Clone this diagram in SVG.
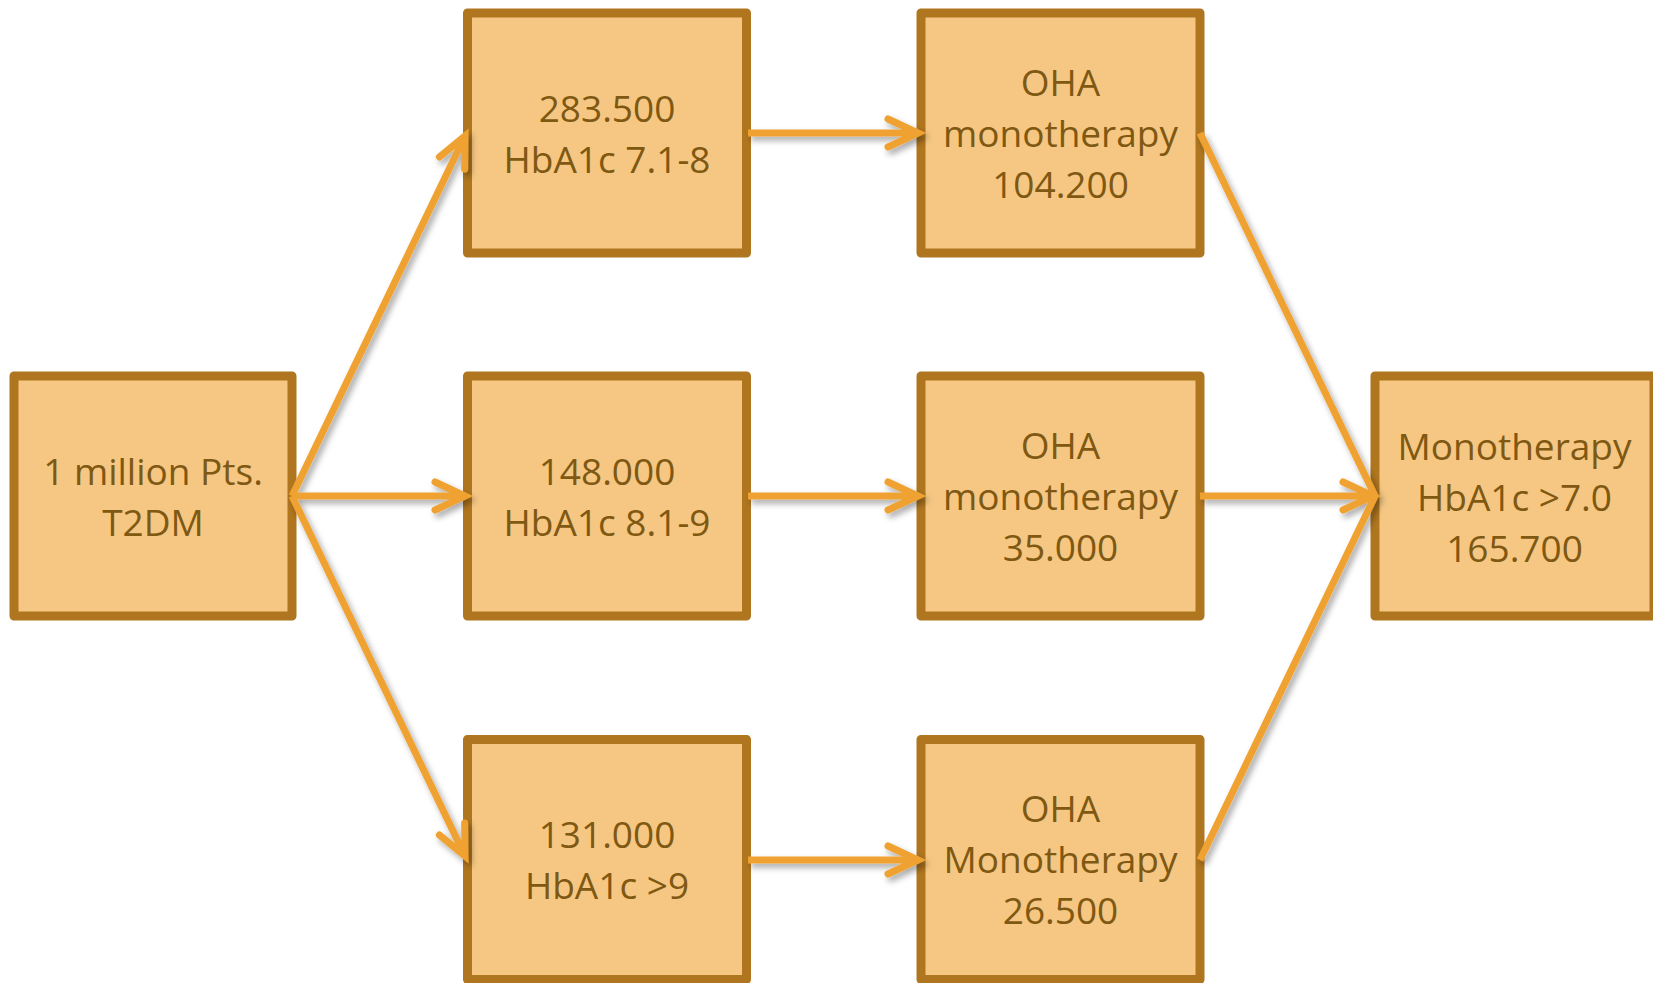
<svg xmlns="http://www.w3.org/2000/svg" width="1653" height="983" viewBox="0 0 1653 983">
<defs>
<style>
.box{fill:#F5C783;stroke:#B0761F;stroke-width:9;stroke-linejoin:round}
.t{font-family:"Open Sans","Noto Sans","Liberation Sans",sans-serif;font-size:37px;fill:#7F5812;text-anchor:middle}
.c{fill:none;stroke:#EFA231;stroke-width:7;stroke-linecap:butt}
</style>
<filter id="sh" x="-20%" y="-20%" width="140%" height="140%">
<feDropShadow dx="3" dy="4" stdDeviation="3" flood-color="#000" flood-opacity="0.35"/>
</filter>
<marker id="ah" markerUnits="userSpaceOnUse" viewBox="-40 -20 48 40" refX="0" refY="0" markerWidth="48" markerHeight="40" orient="auto" overflow="visible">
<path d="M -30 -14 L 0 0 L -30 14" fill="none" stroke="#EFA231" stroke-width="7" stroke-linecap="round" stroke-linejoin="miter"/>
</marker>
</defs>
<rect width="1653" height="983" fill="#fff"/>
<g id="n1"><rect class="box" x="14" y="376" width="278" height="240"/><text class="t" x="153" y="485">1 million Pts.</text><text class="t" x="153" y="536">T2DM</text></g>
<g id="n2"><rect class="box" x="467.5" y="13" width="279" height="240"/><text class="t" x="607" y="122">283.500</text><text class="t" x="607" y="173">HbA1c 7.1-8</text></g>
<g id="n3"><rect class="box" x="467.5" y="376" width="279" height="240"/><text class="t" x="607" y="485">148.000</text><text class="t" x="607" y="536">HbA1c 8.1-9</text></g>
<g id="n4"><rect class="box" x="467.5" y="739.5" width="279" height="240"/><text class="t" x="607" y="848">131.000</text><text class="t" x="607" y="899">HbA1c &gt;9</text></g>
<g id="n5"><rect class="box" x="921" y="13" width="279" height="240"/><text class="t" x="1060.5" y="96">OHA</text><text class="t" x="1060.5" y="147">monotherapy</text><text class="t" x="1060.5" y="198">104.200</text></g>
<g id="n6"><rect class="box" x="921" y="376" width="279" height="240"/><text class="t" x="1060.5" y="459">OHA</text><text class="t" x="1060.5" y="510">monotherapy</text><text class="t" x="1060.5" y="561">35.000</text></g>
<g id="n7"><rect class="box" x="921" y="739.5" width="279" height="240"/><text class="t" x="1060.5" y="822">OHA</text><text class="t" x="1060.5" y="873">Monotherapy</text><text class="t" x="1060.5" y="924">26.500</text></g>
<g id="n8"><rect class="box" x="1375" y="376" width="279" height="240"/><text class="t" x="1514.5" y="460">Monotherapy</text><text class="t" x="1514.5" y="511">HbA1c &gt;7.0</text><text class="t" x="1514.5" y="562">165.700</text></g>
<g id="connectors" filter="url(#sh)">
<path class="c" d="M 292 496 L 465 136" marker-end="url(#ah)"/>
<path class="c" d="M 292 496 L 465 496" marker-end="url(#ah)"/>
<path class="c" d="M 292 496 L 465 856" marker-end="url(#ah)"/>
<path class="c" d="M 748 133 L 918 133" marker-end="url(#ah)"/>
<path class="c" d="M 748 496 L 918 496" marker-end="url(#ah)"/>
<path class="c" d="M 748 860 L 918 860" marker-end="url(#ah)"/>
<path class="c" d="M 1200 133 L 1375 496"/>
<path class="c" d="M 1200 496 L 1373 496" marker-end="url(#ah)"/>
<path class="c" d="M 1200 860 L 1375 496"/>
</g>
</svg>
